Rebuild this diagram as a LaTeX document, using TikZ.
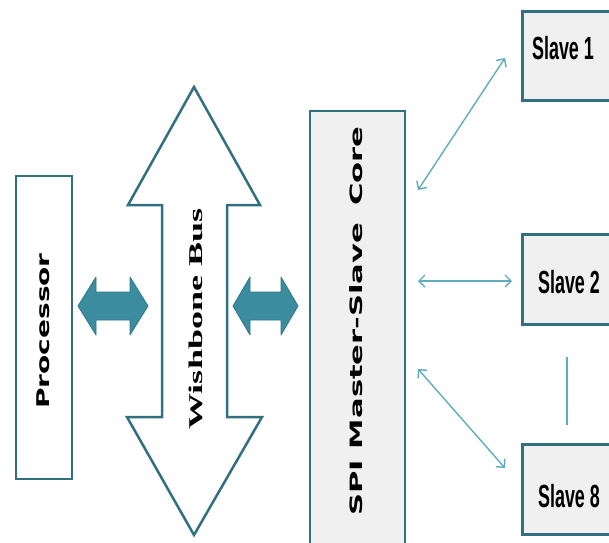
\documentclass[tikz,border=0pt]{standalone}
\usepackage{fontspec}
\usepackage{graphicx}
\setmainfont{Liberation Serif}
\newfontfamily\dejavu{DejaVu Sans}
\newfontfamily\arialf{Liberation Sans}
\usetikzlibrary{arrows.meta}
\definecolor{boxline}{RGB}{49,112,128}
\definecolor{boxfill}{RGB}{240,240,240}
\definecolor{bigarrow}{RGB}{58,140,158}
\definecolor{bigarrowedge}{RGB}{47,120,136}
\definecolor{conncol}{RGB}{95,172,190}
\tikzset{
  boxstyle/.style={draw=boxline, line width=2.5pt, inner sep=0pt},
  slavebox/.style={boxstyle, fill=boxfill, line width=3pt, minimum width=100pt, minimum height=90pt},
  conn/.style={draw=conncol, line width=1.4pt, {Straight Barb[length=6pt,width=12pt]}-{Straight Barb[length=6pt,width=12pt]}},
  fatarrow/.style={fill=bigarrow, draw=bigarrowedge, line width=0.8pt, line join=round},
  slavetxt/.style={inner sep=0pt, font=\arialf\bfseries\fontsize{32}{36}\selectfont}
}
\begin{document}
\begin{tikzpicture}[x=1pt,y=-1pt]
\useasboundingbox (0,0) rectangle (609,542);
\clip (0,0) rectangle (609,542);
\fill[white] (0,0) rectangle (609,542);

% Processor
\node[boxstyle, fill=white, minimum width=56pt, minimum height=303pt] (proc) at (44,327.5) {};
\node[rotate=90, inner sep=0pt] (proct) at (43,331) {\dejavu\bfseries\fontsize{17.5}{20}\selectfont\scalebox{1.6}[1]{Processor}};

% Wishbone bus double arrow
\draw[draw=boxline, line width=2.5pt, fill=white, line join=miter]
  (194,87) -- (260,205) -- (227,205) -- (227,417) -- (262,417) -- (194,535)
  -- (127,417) -- (162,417) -- (162,205) -- (128,205) -- cycle;
\node[rotate=90, inner sep=0pt] (bust) at (196,319) {\bfseries\fontsize{19.5}{22}\selectfont\scalebox{1.85}[1]{Wishbone Bus}};

% fat double arrows
\draw[fatarrow] (78,306) -- (96,277) -- (96,292) -- (130,292) -- (130,277) -- (148,306)
  -- (130,335) -- (130,320) -- (96,320) -- (96,335) -- cycle;
\draw[fatarrow] (233,306) -- (250,277) -- (250,292) -- (281,292) -- (281,277) -- (298,306)
  -- (281,335) -- (281,320) -- (250,320) -- (250,335) -- cycle;

% SPI core
\node[boxstyle, fill=boxfill, minimum width=95pt, minimum height=449pt] (spi) at (357.5,335.5) {};
\node[rotate=90, inner sep=0pt] (spit) at (356,321) {\dejavu\bfseries\fontsize{17}{20}\selectfont\scalebox{1.8}[1]{SPI Master-Slave\hspace{0.55em}Core}};

% Slaves
\node[slavebox, minimum height=89pt] (s1) at (572,55.5) {};
\node[slavetxt] (s1t) at (563,48) {\scalebox{0.56}[1]{Slave 1}};
\node[slavebox] (s2) at (572,279) {};
\node[slavetxt] (s2t) at (569,282) {\scalebox{0.56}[1]{Slave 2}};
\node[slavebox] (s8) at (572,489) {};
\node[slavetxt] (s8t) at (569,496) {\scalebox{0.56}[1]{Slave 8}};

% connectors
\coordinate (c1a) at (418,190);
\coordinate (c1b) at (505,58);
\coordinate (c2a) at (418,281);
\coordinate (c2b) at (512,281);
\coordinate (c8a) at (418,369);
\coordinate (c8b) at (505,468);
\coordinate (va) at (567,357);
\coordinate (vb) at (567,425);
\draw[conn] (c1a) -- (c1b);
\draw[conn] (c2a) -- (c2b);
\draw[conn] (c8a) -- (c8b);
\draw[draw=conncol, line width=1.4pt] (va) -- (vb);
\end{tikzpicture}
\end{document}
